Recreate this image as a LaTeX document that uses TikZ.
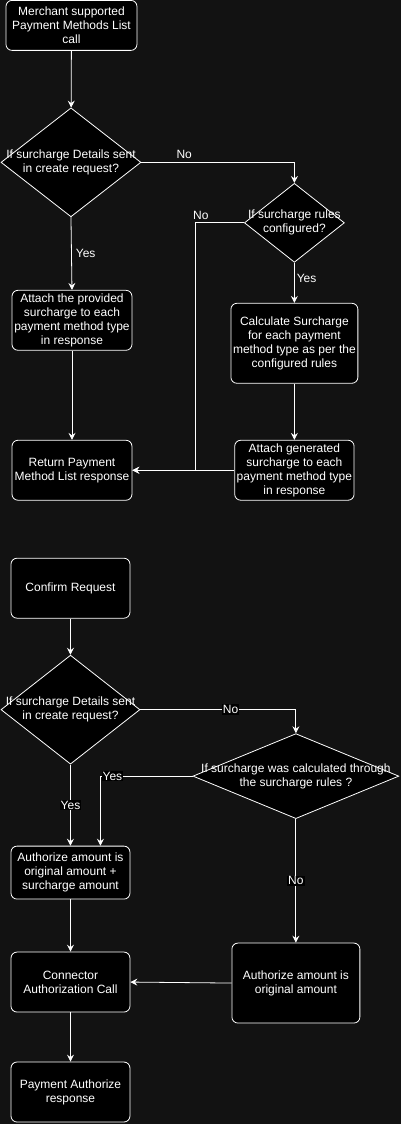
\documentclass[tikz,border=0pt]{standalone}
\usepackage{fontspec}
\setmainfont{Liberation Sans}
\usepackage{tikz}
\usetikzlibrary{positioning,arrows.meta,shapes.geometric}

\definecolor{canvas}{HTML}{121212}

\begin{document}
\begin{tikzpicture}[
        x=1pt, y=-1pt,
        box/.style = {draw=white, fill=black, text=white, rounded corners=6pt, line width=0.8pt,
            minimum width=120pt, minimum height=60pt, align=center, inner sep=2pt},
        decision/.style = {draw=white, fill=black, diamond, line width=0.8pt, inner sep=0pt},
        dtext/.style = {text=white, align=center, inner sep=0pt},
        arrow/.style = {-{Stealth[length=7pt,width=7pt,inset=2.5pt]}, white, line width=0.8pt},
        lbl/.style = {text=white, inner sep=1pt},
        lblbg/.style = {text=white, fill=black, inner sep=1pt},
        every node/.style = {font=\fontsize{12}{14}\selectfont}
    ]

    \fill[canvas] (0,0) rectangle (401,1124);

    % Payment methods list
    \node[box, minimum width=131pt, minimum height=50pt] (merchant) at (71.5,25) {Merchant supported\\Payment Methods List\\call};
    \node[decision, minimum width=140pt, minimum height=109pt] (d1) at (71,162) {};
    \node[dtext] (d1text) at (d1) {If surcharge Details sent\\in create request?};
    \node[decision, minimum width=100pt, minimum height=79pt] (d2) at (294.5,222.5) {};
    \node[dtext] (d2text) at (d2) {If surcharge rules\\configured?};
    \node[box] (attach1) at (72,320) {Attach the provided\\surcharge to each\\payment method type\\in response};
    \node[box, minimum width=127pt, minimum height=80pt] (calc) at (294.5,343) {Calculate Surcharge\\for each payment\\method type as per the\\configured rules};
    \node[box] (return) at (72,470) {Return Payment\\Method List response};
    \node[box, minimum width=119pt] (attach2) at (294.5,470) {Attach generated\\surcharge to each\\payment method type\\in response};
    \coordinate (nocorner) at (195,222.5);

    % Arrows
    \draw[arrow] (merchant) -- (d1);
    \draw[arrow] (d1.east) -| node[lbl, pos=0.14, above=2pt] {No} (d2.north);
    \draw[arrow] (d1.south) -- node[lbl, right=3pt] {Yes} (attach1.north);
    \draw[arrow] (d2.west) -- node[lbl, pos=0.88, above=2pt] {No} (nocorner) |- (return.east);
    \draw[arrow] (d2.south) -- node[lbl, pos=0.4, right=1pt] {Yes} (calc.north);
    \draw[arrow] (attach1) -- (return);
    \draw[arrow] (calc) -- (attach2);
    \draw[arrow] (attach2.west) -- (return.east);

    % Confirm flow
    \node[box, minimum width=119pt] (confirm) at (70.5,588) {Confirm Request};
    \node[decision, minimum width=139pt, minimum height=109pt] (d3) at (70.5,709.5) {};
    \node[dtext] (d3text) at (d3) {If surcharge Details sent\\in create request?};
    \node[decision, minimum width=206pt, minimum height=85pt] (d4) at (296,776) {};
    \node[dtext] (d4text) at (d4) {If surcharge was calculated through\\the surcharge rules ?};
    \node[box, minimum width=119pt, minimum height=53pt] (authplus) at (70.5,872.5) {Authorize amount is\\original amount +\\surcharge amount};
    \node[box, minimum width=128pt, minimum height=80pt] (authorig) at (296,983) {Authorize amount is\\original amount};
    \node[box, minimum width=119pt] (connector) at (70.5,982) {Connector\\Authorization Call};
    \node[box, minimum width=119pt] (payresp) at (70.5,1092) {Payment Authorize\\response};

    % Arrows
    \draw[arrow] (confirm) -- (d3);
    \draw[arrow] (d3.east) -| node[lblbg, pos=0.29] {No} (d4.north);
    \draw[arrow] (d3.south) -- node[lblbg] {Yes} (authplus.north);
    \draw[arrow] (d4.west) -| node[lblbg, pos=0.435] {Yes} ([xshift=30pt]authplus.north);
    \draw[arrow] (d4.south) -- node[lblbg] {No} (authorig.north);
    \draw[arrow] (authplus) -- (connector);
    \draw[arrow] (authorig.west) -- (connector.east);
    \draw[arrow] (connector) -- (payresp);

\end{tikzpicture}
\end{document}
